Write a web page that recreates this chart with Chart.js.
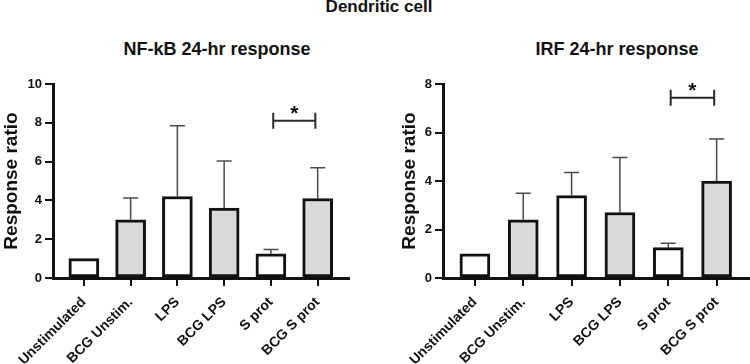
<!DOCTYPE html>
<html>
<head>
<meta charset="utf-8">
<script src="https://cdn.jsdelivr.net/npm/chart.js@4.4.0/dist/chart.umd.min.js"></script>
<style>
  body { margin: 0; background: #fff; font-family: "Liberation Sans", Arial, sans-serif; }
  #wrap { position: relative; width: 750px; height: 364px; overflow: hidden; }
  canvas { position: absolute; top: 0; }
  .ttl { position: absolute; font-weight: bold; color: #111; white-space: nowrap; line-height: 1; transform: translateX(-50%); }
</style>
</head>
<body>
<div id="wrap">
  <div class="ttl" style="left:379px; top:-2px; font-size:17px;">Dendritic cell</div>
  <div class="ttl" style="left:217px; top:40px; font-size:18px;">NF-kB 24-hr response</div>
  <div class="ttl" style="left:617px; top:40px; font-size:18px;">IRF 24-hr response</div>
  <canvas id="nfkb" width="375" height="364" style="left:0"></canvas>
  <canvas id="irf" width="375" height="364" style="left:375px"></canvas>
</div>
<script>
// DATA
const categories = ["Unstimulated", "BCG Unstim.", "LPS", "BCG LPS", "S prot", "BCG S prot"];
const barFills = ["#ffffff", "#d9d9d9", "#ffffff", "#d9d9d9", "#ffffff", "#d9d9d9"];

const nfkbMean = [1.0, 3.0, 4.2, 3.6, 1.25, 4.1];
const nfkbErr = [0, 1.12, 3.65, 2.43, 0.22, 1.58];
const nfkbSig = [4.05, 4.95, 8.1]; // from, to, height

const irfMean = [1.0, 2.4, 3.4, 2.7, 1.25, 4.0];
const irfErr = [0, 1.1, 0.95, 2.27, 0.18, 1.73];
const irfSig = [4.05, 4.95, 7.43];

const ink = "#111";
const font = "'Liberation Sans', Arial, sans-serif";

// error bars (up only) + significance bracket
const extras = {
  id: "extras",
  beforeDatasetsDraw(chart, args, opts) {
    const { ctx, scales: { x, y } } = chart;
    const data = chart.data.datasets[0].data;
    ctx.save();
    ctx.strokeStyle = "#4a4a4a";
    ctx.lineWidth = 1.5;
    opts.errors.forEach((e, i) => {
      if (!e) return;
      const px = x.getPixelForValue(data[i].x);
      const base = y.getPixelForValue(data[i].y);
      const top = y.getPixelForValue(data[i].y + e);
      ctx.beginPath();
      ctx.moveTo(px, base);
      ctx.lineTo(px, top);
      ctx.moveTo(px - 7.5, top);
      ctx.lineTo(px + 7.5, top);
      ctx.stroke();
    });
    ctx.restore();
  },
  afterDatasetsDraw(chart, args, opts) {
    const { ctx, scales: { x, y } } = chart;
    const [from, to, h] = opts.sig;
    const x1 = x.getPixelForValue(from), x2 = x.getPixelForValue(to);
    const py = y.getPixelForValue(h);
    ctx.save();
    ctx.strokeStyle = "#2a2a2a";
    ctx.lineWidth = 2;
    ctx.beginPath();
    ctx.moveTo(x1, py); ctx.lineTo(x2, py);
    ctx.moveTo(x1, py - 8); ctx.lineTo(x1, py + 8);
    ctx.moveTo(x2, py - 8); ctx.lineTo(x2, py + 8);
    ctx.stroke();
    ctx.fillStyle = ink;
    ctx.font = "bold 21px " + font;
    ctx.textAlign = "center";
    ctx.textBaseline = "alphabetic";
    ctx.fillText("*", (x1 + x2) / 2, py - 1);
    ctx.restore();
  }
};

function makeChart(id, mean, err, sig, yMax, padLeft, yWidth) {
  return new Chart(document.getElementById(id), {
    type: "bar",
    data: {
      datasets: [{
        data: mean.map((v, i) => ({ x: i, y: v })),
        backgroundColor: barFills,
        borderColor: ink,
        borderWidth: 3,
        borderSkipped: false,
        barThickness: 30
      }]
    },
    options: {
      responsive: false,
      animation: false,
      layout: { padding: { top: 84, left: padLeft, right: id === "irf" ? 1 : 26, bottom: 0 } },
      plugins: {
        legend: { display: false },
        tooltip: { enabled: false },
        extras: { errors: err, sig: sig }
      },
      scales: {
        x: {
          type: "linear",
          min: -0.66,
          max: 5.67,
          offset: false,
          afterBuildTicks: s => { s.ticks = categories.map((c, i) => ({ value: i })); },
          afterFit: s => { s.height = 86; },
          ticks: {
            autoSkip: false,
            minRotation: 45,
            maxRotation: 45,
            padding: 8,
            color: ink,
            font: { family: font, size: 14, weight: "bold" },
            callback: v => categories[v]
          },
          grid: { offset: false, drawOnChartArea: false, drawTicks: true, tickLength: 8, color: ink, lineWidth: 2 },
          border: { display: true, color: ink, width: 3 }
        },
        y: {
          min: 0,
          max: yMax,
          afterFit: s => { s.width = yWidth; },
          ticks: { stepSize: 2, padding: 3, color: ink, font: { family: font, size: 13, weight: "bold" } },
          title: { display: true, text: "Response ratio", color: ink, padding: 0, font: { family: font, size: 19, weight: "bold" } },
          grid: { drawOnChartArea: false, drawTicks: true, tickLength: 8, color: ink, lineWidth: 2 },
          border: { display: true, color: ink, width: 3 }
        }
      }
    },
    plugins: [extras]
  });
}

makeChart("nfkb", nfkbMean, nfkbErr, nfkbSig, 10, 0, 53);
makeChart("irf", irfMean, irfErr, irfSig, 8, 23, 45);
</script>
</body>
</html>
